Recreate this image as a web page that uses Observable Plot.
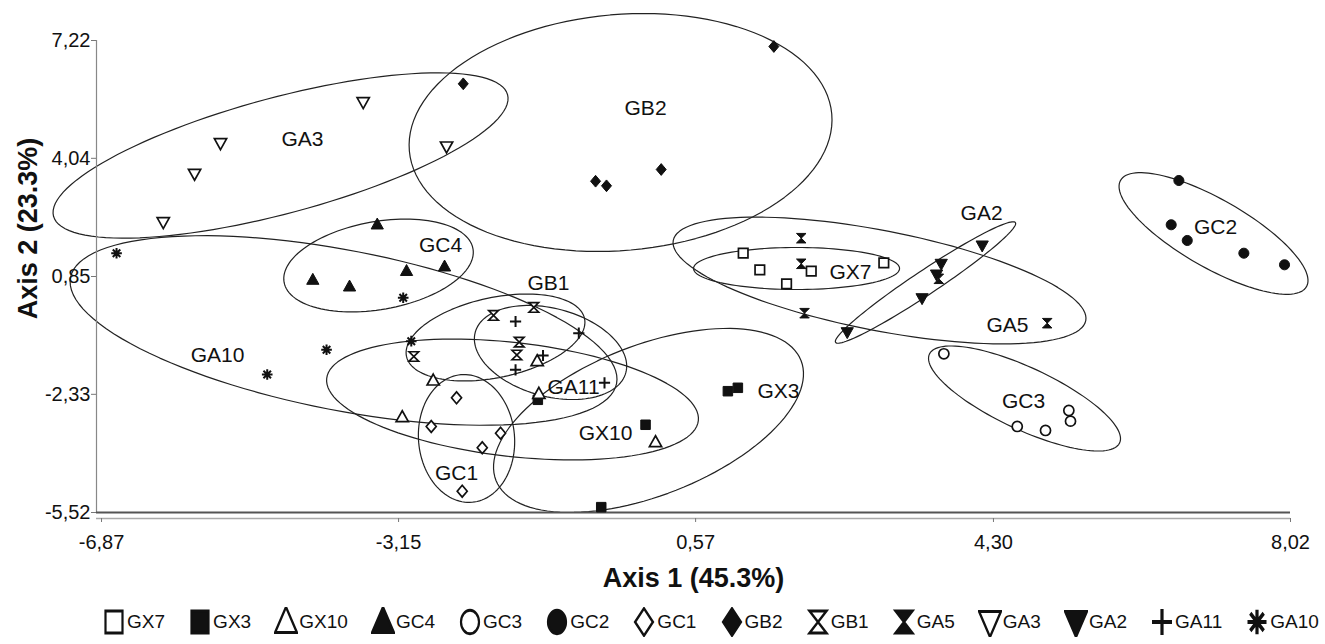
<!DOCTYPE html>
<html>
<head>
<meta charset="utf-8">
<script src="https://cdn.jsdelivr.net/npm/d3@7"></script>
<script src="https://cdn.jsdelivr.net/npm/@observablehq/plot@0.6"></script>
<style>
  html, body { margin: 0; padding: 0; background: #fff; }
  #wrap { position: relative; width: 1325px; height: 644px; font-family: "Liberation Sans", Arial, sans-serif; }
  #legend { position: absolute; left: 102px; top: 607px; width: 1217px; display: flex; justify-content: space-between; align-items: center; font-size: 19px; color: #111; }
  #legend .item { display: flex; align-items: center; }
  #legend svg { display: block; margin-right: 1px; }
</style>
</head>
<body>
<div id="wrap"></div>
<script>
// ---------------- data ----------------
const groupNames = ["GX7","GX3","GX10","GC4","GC3","GC2","GC1","GB2","GB1","GA5","GA3","GA2","GA11","GA10"];

const GX7  = [[1.166,1.479],[1.374,1.031],[1.709,0.653],[2.018,0.993],[2.927,1.220]];
const GX3  = [[-1.406,-2.478],[0.974,-2.246],[1.099,-2.154],[-0.057,-3.152],[-0.612,-5.376]];
const GX10 = [[-2.716,-1.957],[-1.414,-1.436],[-1.393,-2.316],[-3.104,-2.947],[0.068,-3.622]];
const GC4  = [[-3.417,2.254],[-4.224,0.761],[-3.764,0.580],[-3.050,0.999],[-2.574,1.120]];
const GC3  = [[3.679,-1.236],[4.598,-3.198],[4.952,-3.306],[5.244,-2.767],[5.265,-3.055]];
const GC2  = [[6.622,3.441],[6.526,2.246],[6.727,1.822],[7.436,1.479],[7.945,1.166]];
const GC1  = [[-2.424,-2.424],[-2.741,-3.198],[-2.102,-3.773],[-1.873,-3.379],[-2.353,-4.945]];
const GB2  = [[-2.340,6.051],[1.550,7.058],[-0.683,3.422],[-0.546,3.298],[0.139,3.738]];
const GB1  = [[-1.961,-0.202],[-1.456,0.014],[-1.639,-0.923],[-1.669,-1.269],[-2.959,-1.309]];
const GA5  = [[1.893,1.884],[1.893,1.193],[1.934,-0.140],[4.973,-0.410],[3.616,0.788]];
const GA3  = [[-3.593,5.555],[-5.380,4.448],[-5.705,3.622],[-6.097,2.316],[-2.549,4.359]];
const GA2  = [[4.159,1.687],[3.646,1.193],[3.587,0.904],[3.406,0.264],[2.469,-0.653]];
const GA11 = [[-1.685,-0.364],[-0.893,-0.680],[-1.341,-1.282],[-1.685,-1.668],[-0.571,-2.019]];
const GA10 = [[-6.682,1.479],[-3.092,0.275],[-2.991,-0.896],[-4.052,-1.128],[-4.795,-1.795]];
const groupPoints = [GX7,GX3,GX10,GC4,GC3,GC2,GC1,GB2,GB1,GA5,GA3,GA2,GA11,GA10];

// group label anchor (data units)
const labelX = [2.510,1.608,-0.558,-2.625,4.677,7.081,-2.424,-0.057,-1.272,4.476,-4.353,4.151,-0.959,-5.417];
const labelY = [0.966,-2.254,-3.387,1.687,-2.524,2.173,-4.467,5.385,0.661,-0.472,4.548,2.551,-2.146,-1.282];

// group ellipses (data units): centre, end of first semi-axis, end of second semi-axis
const ellipseCenter = [[1.834,1.066],[-0.020,-3.036],[-1.723,-2.470],[-3.401,1.147],[4.689,-2.443],[7.056,2.011],[-2.299,-3.522],[-0.370,4.737],[-1.936,-0.796],[2.873,0.742],[-4.628,4.116],[3.449,0.688],[-1.247,-1.201],[-3.839,-0.607]];
const ellipseMajor  = [[3.124,1.066],[1.890,-1.417],[0.604,-3.042],[-2.218,1.598],[5.880,-3.641],[8.220,0.575],[-2.369,-1.800],[2.275,5.236],[-0.821,-0.286],[5.456,-0.340],[-1.785,5.757],[4.575,2.305],[-0.304,-1.746],[-0.420,-2.040]];
const ellipseMinor  = [[1.834,0.499],[0.325,-4.920],[-1.804,-3.997],[-3.306,-0.022],[4.525,-3.201],[6.844,1.215],[-1.700,-3.409],[-0.241,1.565],[-1.832,-1.852],[2.754,-0.583],[-4.440,2.605],[3.533,0.418],[-1.390,-2.348],[-4.031,-2.726]];

const xTicks = [-6.87,-3.15,0.57,4.30,8.02];
const yTicks = [-5.52,-2.33,0.85,4.04,7.22];
const xDomain = [-6.933, 8.02];
const yDomain = [-5.52, 7.22];
const xTitle = "Axis 1 (45.3%)";
const yTitle = "Axis 2 (23.3%)";

// ---------------- symbols ----------------
const R = size => Math.sqrt(size / Math.PI);
const symSquare = {draw(c, size){ const s = R(size)*0.85; c.rect(-s,-s,2*s,2*s); }};
const symTriUp = {draw(c, size){ const r = R(size)*1.15; c.moveTo(0,-r); c.lineTo(r*0.95,r*0.7); c.lineTo(-r*0.95,r*0.7); c.closePath(); }};
const symTriDown = {draw(c, size){ const r = R(size)*1.15; c.moveTo(0,r); c.lineTo(r*0.95,-r*0.7); c.lineTo(-r*0.95,-r*0.7); c.closePath(); }};
const symCircle = {draw(c, size){ const r = R(size)*0.9; c.moveTo(r,0); c.arc(0,0,r,0,2*Math.PI); }};
const symDiamond = {draw(c, size){ const r = R(size)*1.05; c.moveTo(0,-r); c.lineTo(r*0.85,0); c.lineTo(0,r); c.lineTo(-r*0.85,0); c.closePath(); }};
const symHourglass = {draw(c, size){ const r = R(size); const w = r*0.85, h = r*0.85; c.moveTo(-w,-h); c.lineTo(w,-h); c.lineTo(-w,h); c.lineTo(w,h); c.closePath(); }};
const symPlus = {draw(c, size){ const r = R(size); c.moveTo(-r,0); c.lineTo(r,0); c.moveTo(0,-r); c.lineTo(0,r); }};
const symAster = {draw(c, size){ const r = R(size)*0.95; for (const a of [0,45,90,135]) { const t = a*Math.PI/180, x = r*Math.cos(t), y = r*Math.sin(t); c.moveTo(-x,-y); c.lineTo(x,y); } }};

const INK = "#111";
// style per group: [symbol, fill]
const groupStyle = {
  GX7: [symSquare, "white"], GX3: [symSquare, INK],
  GX10: [symTriUp, "white"], GC4: [symTriUp, INK],
  GC3: [symCircle, "white"], GC2: [symCircle, INK],
  GC1: [symDiamond, "white"], GB2: [symDiamond, INK],
  GB1: [symHourglass, "white"], GA5: [symHourglass, INK],
  GA3: [symTriDown, "white"], GA2: [symTriDown, INK],
  GA11: [symPlus, "none"], GA10: [symAster, "none"]
};

// ---------------- build ----------------
const fmt = d => d.toFixed(2).replace(".", ",");

const ellipseRows = [];
groupNames.forEach((g, i) => {
  const [cx, cy] = ellipseCenter[i], [mx, my] = ellipseMajor[i], [nx, ny] = ellipseMinor[i];
  const n = 120;
  for (let k = 0; k < n; k++) {
    const t = 2*Math.PI*k/n;
    ellipseRows.push({g, x: cx + Math.cos(t)*(mx-cx) + Math.sin(t)*(nx-cx), y: cy + Math.cos(t)*(my-cy) + Math.sin(t)*(ny-cy)});
  }
});

const dotMarks = groupNames.map((g, i) => {
  const [sym, fill] = groupStyle[g];
  const open = fill === "none";
  return Plot.dot(groupPoints[i], {
    x: d => d[0], y: d => d[1], symbol: sym, r: 5.6,
    fill, stroke: INK, strokeWidth: open ? 2 : (fill === "white" ? 1.7 : 1)
  });
});

const labelRows = groupNames.map((g, i) => ({g, x: labelX[i], y: labelY[i]}));

const chart = Plot.plot({
  width: 1325, height: 600,
  marginLeft: 96, marginRight: 35, marginTop: 40, marginBottom: 88,
  x: {domain: xDomain}, y: {domain: yDomain},
  style: {fontFamily: "Liberation Sans, Arial, sans-serif", fontSize: "20px", color: INK, background: "white"},
  marks: [
    Plot.line(ellipseRows, {x: "x", y: "y", z: "g", curve: "linear-closed", stroke: "#222", strokeWidth: 1.2}),
    Plot.ruleX([xDomain[0]], {stroke: "#888", strokeWidth: 1.2}),
    Plot.ruleY([yDomain[0]], {stroke: "#555", strokeWidth: 2}),
    Plot.ruleY([yDomain[0]], {stroke: "#aaa", strokeWidth: 1.5, dy: 6}),
    Plot.axisX({ticks: xTicks, tickFormat: fmt, tickSize: 4, tickPadding: 12, dy: 6, stroke: "#777", fill: INK, fontSize: 20, label: null}),
    Plot.axisY({ticks: yTicks, tickFormat: fmt, tickSize: 5, tickPadding: 1, stroke: "#777", fill: INK, fontSize: 20, label: null}),
    ...dotMarks,
    Plot.text(labelRows, {x: "x", y: "y", text: "g", fontSize: 21, fill: INK}),
    Plot.text([xTitle], {frameAnchor: "bottom", textAnchor: "middle", lineAnchor: "middle", dy: 66, fontSize: 27, fontWeight: "bold", fill: INK}),
    Plot.text([yTitle], {frameAnchor: "left", textAnchor: "middle", lineAnchor: "middle", rotate: -90, dx: -68, dy: -48, fontSize: 27, fontWeight: "bold", fill: INK})
  ]
});

const wrap = document.getElementById("wrap");
wrap.appendChild(chart);

// ---------------- legend ----------------
const legend = document.createElement("div");
legend.id = "legend";
groupNames.forEach(g => {
  const [sym, fill] = groupStyle[g];
  const p = d3.path();
  sym.draw(p, Math.PI * 10 * 10);
  const open = fill === "none";
  const item = document.createElement("div");
  item.className = "item";
  item.innerHTML = `<svg width="24" height="30" viewBox="-12 -15 24 30"><path d="${p.toString()}" transform="scale(1,1.3)" fill="${fill}" stroke="${INK}" stroke-width="${open ? 3.2 : 2.2}"/></svg><span>${g}</span>`;
  legend.appendChild(item);
});
wrap.appendChild(legend);
</script>
</body>
</html>
